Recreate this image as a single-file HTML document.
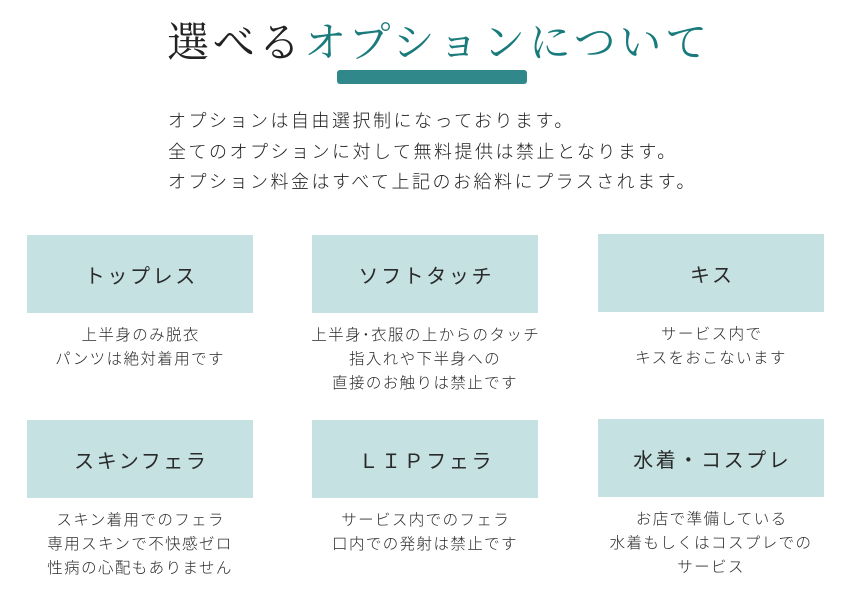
<!DOCTYPE html>
<html><head><meta charset="utf-8"><style>
body{margin:0;width:853px;height:600px;background:#fff;position:relative;font-family:"Liberation Sans","Noto Sans CJK JP",sans-serif;color:#222;overflow:hidden}
.h{position:absolute;left:167px;top:17px;font-family:"Liberation Serif","Noto Serif CJK SC",serif;font-size:42px;white-space:nowrap;letter-spacing:3.7px;line-height:54px}
.h span{color:#1a7b7d}
.ul{position:absolute;left:337px;top:70px;width:190px;height:14px;background:#1a7b7d;border-radius:3px;opacity:.9}
.p{position:absolute;left:168px;top:106px;font-size:18px;letter-spacing:2.5px;line-height:30.5px;white-space:nowrap;font-weight:300}
.b{position:absolute;width:226px;height:78px;background:#c5e1e2;display:flex;align-items:center;justify-content:center;font-size:20px;letter-spacing:2.6px;text-indent:2.6px;color:#2a2a2a}
.t{position:absolute;width:300px;text-align:center;font-size:15.5px;line-height:24px;letter-spacing:1.4px;text-indent:1.4px;font-weight:300;color:#2a2a2a}
</style></head><body>
<div class="h">選べる<span>オプションについて</span></div>
<div class="ul"></div>
<div class="p">オプションは自由選択制になっております。<br>全てのオプションに対して無料提供は禁止となります。<br>オプション料金はすべて上記のお給料にプラスされます。</div>

<div class="b" style="left:27px;top:235px">トップレス</div>
<div class="b" style="left:312px;top:235px">ソフトタッチ</div>
<div class="b" style="left:598px;top:234px">キス</div>
<div class="t" style="left:-10px;top:324px">上半身のみ脱衣<br>パンツは絶対着用です</div>
<div class="t" style="left:275px;top:324px">上半身･衣服の上からのタッチ<br>指入れや下半身への<br>直接のお触りは禁止です</div>
<div class="t" style="left:561px;top:323px">サービス内で<br>キスをおこないます</div>

<div class="b" style="left:27px;top:420px">スキンフェラ</div>
<div class="b" style="left:312px;top:420px">ＬＩＰフェラ</div>
<div class="b" style="left:598px;top:419px">水着・コスプレ</div>
<div class="t" style="left:-10px;top:509px">スキン着用でのフェラ<br>専用スキンで不快感ゼロ<br>性病の心配もありません</div>
<div class="t" style="left:275px;top:509px">サービス内でのフェラ<br>口内での発射は禁止です</div>
<div class="t" style="left:561px;top:508px">お店で準備している<br>水着もしくはコスプレでの<br>サービス</div>
</body></html>
